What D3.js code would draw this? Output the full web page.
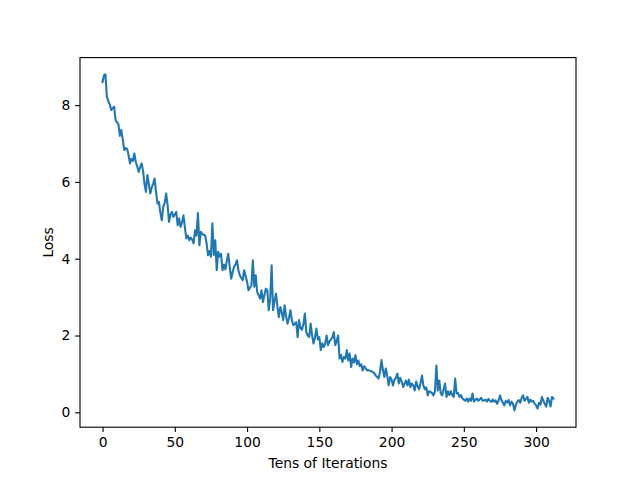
<!DOCTYPE html>
<html><head><meta charset="utf-8">
<script src="https://cdn.jsdelivr.net/npm/d3@7"></script>
<style>body{margin:0;background:#fff}svg{display:block}text{font-family:"DejaVu Sans",sans-serif;fill:#000}</style>
</head><body>
<svg id="c" width="640" height="480"></svg>
<script>
const loss = [
8.60,8.78,8.80,8.22,8.10,8.02,7.87,7.92,7.96,7.62,
7.55,7.50,7.20,7.35,7.10,6.83,6.88,6.86,6.70,6.48,
6.60,6.55,6.74,6.52,6.40,6.26,6.38,6.48,6.30,5.95,
5.74,6.18,5.95,5.70,5.85,5.95,6.09,5.74,5.44,5.48,
5.20,5.00,5.35,5.45,5.70,5.40,4.96,5.15,5.22,5.09,
5.15,5.22,4.87,5.05,4.83,4.95,5.13,4.80,4.53,4.60,
4.48,4.55,4.50,4.40,4.74,4.60,5.19,4.35,4.70,4.65,
4.62,4.61,4.40,4.09,4.20,4.05,4.92,4.10,4.48,3.70,
4.18,4.05,4.13,3.70,3.85,3.72,3.95,4.13,3.79,3.48,
3.65,3.79,3.85,3.96,3.70,3.57,3.50,3.44,3.70,3.55,
3.40,3.18,3.25,3.30,3.96,3.27,3.57,3.13,3.05,2.96,
3.18,2.87,3.05,3.22,3.18,2.66,2.95,3.83,2.66,2.90,
3.09,2.75,2.48,2.74,2.60,2.40,2.79,2.50,2.31,2.45,
2.66,2.40,2.27,2.30,2.35,1.96,2.40,2.20,2.15,2.30,
2.57,2.09,2.00,1.96,2.31,2.00,1.79,1.95,2.18,1.90,
1.96,1.62,1.80,1.70,1.78,2.00,1.75,1.85,1.90,1.95,
2.09,1.75,1.85,2.00,1.40,1.50,1.31,1.44,1.40,1.62,
1.35,1.53,1.18,1.40,1.30,1.49,1.25,1.35,1.20,1.25,
1.09,1.20,1.15,1.09,1.10,1.08,1.07,1.05,1.02,0.96,
0.92,0.88,1.05,1.36,1.10,0.92,1.14,0.95,0.70,0.92,
0.85,0.70,0.85,0.90,1.01,0.75,0.90,0.80,0.66,0.75,
0.83,0.70,0.85,0.66,0.75,0.70,0.57,0.80,0.68,0.60,
0.75,0.96,0.70,0.60,0.65,0.44,0.55,0.53,0.50,0.44,
0.55,1.22,0.57,0.83,0.50,0.44,0.60,0.75,0.40,0.55,
0.45,0.55,0.45,0.40,0.88,0.49,0.50,0.40,0.45,0.36,
0.33,0.30,0.36,0.28,0.36,0.30,0.49,0.28,0.32,0.36,
0.30,0.34,0.38,0.30,0.31,0.33,0.28,0.35,0.30,0.27,
0.33,0.28,0.31,0.22,0.30,0.44,0.32,0.25,0.18,0.30,
0.25,0.32,0.18,0.28,0.22,0.05,0.20,0.28,0.32,0.25,
0.38,0.44,0.30,0.35,0.40,0.25,0.33,0.28,0.30,0.22,
0.18,0.10,0.25,0.20,0.40,0.30,0.22,0.15,0.38,0.30,
0.15,0.40,0.36
];
const iterations = loss.map((d,i)=>i);
const xTicks = [0,50,100,150,200,250,300];
const yTicks = [0,2,4,6,8];
const xLabel = "Tens of Iterations";
const yLabel = "Loss";

const W=640,H=480, L=80, R=576, T=57.6, B=427.2;
const svg = d3.select("#c");
const xe = d3.extent(iterations), ye = d3.extent(loss);
const xp = (xe[1]-xe[0])*0.05, yp=(ye[1]-ye[0])*0.05;
const x = d3.scaleLinear().domain([xe[0]-xp, xe[1]+xp]).range([L,R]);
const y = d3.scaleLinear().domain([ye[0]-yp, ye[1]+yp]).range([B,T]);

const line = d3.line().x((d,i)=>x(iterations[i])).y(d=>y(d));
svg.append("path").datum(loss).attr("d",line).attr("fill","none")
  .attr("stroke","#1f77b4").attr("stroke-width",2.08).attr("stroke-linejoin","round").attr("stroke-linecap","square");

const fs = 13.89;
const xa = svg.append("g").attr("transform",`translate(0,${B})`)
  .call(d3.axisBottom(x).tickValues(xTicks).tickSize(4.86).tickPadding(4.86).tickFormat(d3.format("d")));
const ya = svg.append("g").attr("transform",`translate(${L},0)`)
  .call(d3.axisLeft(y).tickValues(yTicks).tickSize(4.86).tickPadding(4.86).tickFormat(d3.format("d")));
[xa,ya].forEach(a=>{
  a.select(".domain").remove();
  a.selectAll("line").attr("stroke","#000").attr("stroke-width",1.11);
  a.selectAll("text").attr("font-size",fs).attr("font-family","DejaVu Sans").attr("fill","#000");
});
svg.append("rect").attr("x",L).attr("y",T).attr("width",R-L).attr("height",B-T)
  .attr("fill","none").attr("stroke","#000").attr("stroke-width",1.11);

svg.append("text").attr("x",(L+R)/2).attr("y",467.5).attr("text-anchor","middle")
  .attr("font-size",fs).text(xLabel);
svg.append("text").attr("transform",`translate(53,${(T+B)/2}) rotate(-90)`).attr("text-anchor","middle")
  .attr("font-size",fs).text(yLabel);
</script>
</body></html>
